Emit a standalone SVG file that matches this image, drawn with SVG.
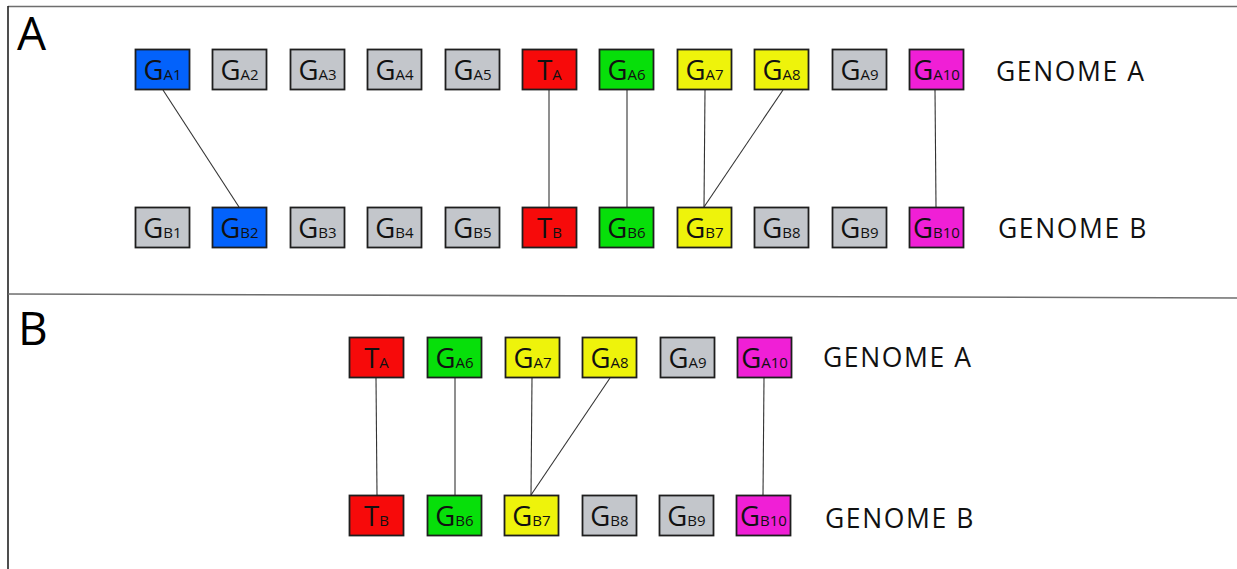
<svg xmlns="http://www.w3.org/2000/svg" width="1237" height="569" viewBox="0 0 1237 569">
<style>
.bx{stroke:#1e1e1e;stroke-width:1.8}
.gray{fill:#c3c6cb}.blue{fill:#0362fb}.red{fill:#f70a0a}.green{fill:#07df0a}.yellow{fill:#eef30b}.mag{fill:#f01fd6}
.t{font-family:"Open Sans","Noto Sans",sans-serif;fill:#111;text-anchor:middle}
.big{font-size:27.5px}.sub{font-size:15px}
.lbl{font-family:"Open Sans","Noto Sans",sans-serif;font-size:26.5px;letter-spacing:1.6px;fill:#111}
.sec{font-family:"Open Sans","Noto Sans",sans-serif;font-size:46px;fill:#000}
.ln{stroke:#333;stroke-width:1.1;fill:none}
.frame{stroke:#6e6e6e;stroke-width:1.6;fill:none}
</style>
<rect width="1237" height="569" fill="#fff"/>
<g id="frame">
<line class="frame" x1="8" y1="6.5" x2="1237" y2="6.5"/>
<line x1="8" y1="6" x2="8" y2="569" stroke="#222" stroke-width="1.6"/>
<line class="frame" x1="8" y1="294" x2="1237" y2="298"/>
<text class="sec" x="17" y="50">A</text>
<text class="sec" x="18" y="345">B</text>
</g>
<g id="connectors">
<line class="ln" x1="163" y1="90" x2="239" y2="207"/>
<line class="ln" x1="549" y1="90" x2="549" y2="207"/>
<line class="ln" x1="627" y1="90" x2="627" y2="207"/>
<line class="ln" x1="705" y1="90" x2="704" y2="207"/>
<line class="ln" x1="783" y1="90" x2="704" y2="207"/>
<line class="ln" x1="935" y1="90" x2="936" y2="207"/>
<line class="ln" x1="376" y1="378" x2="377" y2="495"/>
<line class="ln" x1="455" y1="378" x2="455" y2="495"/>
<line class="ln" x1="532" y1="378" x2="531" y2="495"/>
<line class="ln" x1="610" y1="378" x2="531" y2="495"/>
<line class="ln" x1="764" y1="378" x2="763" y2="495"/>
</g>
<!-- Section A, genome A -->
<g id="A_GA1"><rect class="bx blue" x="135.5" y="49.5" width="54" height="40"/><text class="t" x="162.5" y="80"><tspan class="big">G</tspan><tspan class="sub">A1</tspan></text></g>
<g id="A_GA2"><rect class="bx gray" x="212.5" y="49.5" width="54" height="40"/><text class="t" x="239.5" y="80"><tspan class="big">G</tspan><tspan class="sub">A2</tspan></text></g>
<g id="A_GA3"><rect class="bx gray" x="290.5" y="49.5" width="54" height="40"/><text class="t" x="317.5" y="80"><tspan class="big">G</tspan><tspan class="sub">A3</tspan></text></g>
<g id="A_GA4"><rect class="bx gray" x="367.5" y="49.5" width="54" height="40"/><text class="t" x="394.5" y="80"><tspan class="big">G</tspan><tspan class="sub">A4</tspan></text></g>
<g id="A_GA5"><rect class="bx gray" x="445.5" y="49.5" width="54" height="40"/><text class="t" x="472.5" y="80"><tspan class="big">G</tspan><tspan class="sub">A5</tspan></text></g>
<g id="A_TA"><rect class="bx red" x="522.5" y="49.5" width="54" height="40"/><text class="t" x="549.5" y="80"><tspan class="big">T</tspan><tspan class="sub">A</tspan></text></g>
<g id="A_GA6"><rect class="bx green" x="599.5" y="49.5" width="54" height="40"/><text class="t" x="626.5" y="80"><tspan class="big">G</tspan><tspan class="sub">A6</tspan></text></g>
<g id="A_GA7"><rect class="bx yellow" x="677.5" y="49.5" width="54" height="40"/><text class="t" x="704.5" y="80"><tspan class="big">G</tspan><tspan class="sub">A7</tspan></text></g>
<g id="A_GA8"><rect class="bx yellow" x="754.5" y="49.5" width="54" height="40"/><text class="t" x="781.5" y="80"><tspan class="big">G</tspan><tspan class="sub">A8</tspan></text></g>
<g id="A_GA9"><rect class="bx gray" x="832.5" y="49.5" width="54" height="40"/><text class="t" x="859.5" y="80"><tspan class="big">G</tspan><tspan class="sub">A9</tspan></text></g>
<g id="A_GA10"><rect class="bx mag" x="909.5" y="49.5" width="54" height="40"/><text class="t" x="936.5" y="80"><tspan class="big">G</tspan><tspan class="sub">A10</tspan></text></g>
<text id="A_labelA" class="lbl" x="996" y="81">GENOME A</text>
<!-- Section A, genome B -->
<g id="A_GB1"><rect class="bx gray" x="135.5" y="207.5" width="54" height="40"/><text class="t" x="162.5" y="238"><tspan class="big">G</tspan><tspan class="sub">B1</tspan></text></g>
<g id="A_GB2"><rect class="bx blue" x="212.5" y="207.5" width="54" height="40"/><text class="t" x="239.5" y="238"><tspan class="big">G</tspan><tspan class="sub">B2</tspan></text></g>
<g id="A_GB3"><rect class="bx gray" x="290.5" y="207.5" width="54" height="40"/><text class="t" x="317.5" y="238"><tspan class="big">G</tspan><tspan class="sub">B3</tspan></text></g>
<g id="A_GB4"><rect class="bx gray" x="367.5" y="207.5" width="54" height="40"/><text class="t" x="394.5" y="238"><tspan class="big">G</tspan><tspan class="sub">B4</tspan></text></g>
<g id="A_GB5"><rect class="bx gray" x="445.5" y="207.5" width="54" height="40"/><text class="t" x="472.5" y="238"><tspan class="big">G</tspan><tspan class="sub">B5</tspan></text></g>
<g id="A_TB"><rect class="bx red" x="522.5" y="207.5" width="54" height="40"/><text class="t" x="549.5" y="238"><tspan class="big">T</tspan><tspan class="sub">B</tspan></text></g>
<g id="A_GB6"><rect class="bx green" x="599.5" y="207.5" width="54" height="40"/><text class="t" x="626.5" y="238"><tspan class="big">G</tspan><tspan class="sub">B6</tspan></text></g>
<g id="A_GB7"><rect class="bx yellow" x="677.5" y="207.5" width="54" height="40"/><text class="t" x="704.5" y="238"><tspan class="big">G</tspan><tspan class="sub">B7</tspan></text></g>
<g id="A_GB8"><rect class="bx gray" x="754.5" y="207.5" width="54" height="40"/><text class="t" x="781.5" y="238"><tspan class="big">G</tspan><tspan class="sub">B8</tspan></text></g>
<g id="A_GB9"><rect class="bx gray" x="832.5" y="207.5" width="54" height="40"/><text class="t" x="859.5" y="238"><tspan class="big">G</tspan><tspan class="sub">B9</tspan></text></g>
<g id="A_GB10"><rect class="bx mag" x="909.5" y="207.5" width="54" height="40"/><text class="t" x="936.5" y="238"><tspan class="big">G</tspan><tspan class="sub">B10</tspan></text></g>
<text id="A_labelB" class="lbl" x="998" y="238">GENOME B</text>
<!-- Section B, genome A -->
<g id="B_TA"><rect class="bx red" x="349.5" y="337.5" width="54" height="40"/><text class="t" x="376.5" y="368"><tspan class="big">T</tspan><tspan class="sub">A</tspan></text></g>
<g id="B_GA6"><rect class="bx green" x="427.5" y="337.5" width="54" height="40"/><text class="t" x="454.5" y="368"><tspan class="big">G</tspan><tspan class="sub">A6</tspan></text></g>
<g id="B_GA7"><rect class="bx yellow" x="505.5" y="337.5" width="54" height="40"/><text class="t" x="532.5" y="368"><tspan class="big">G</tspan><tspan class="sub">A7</tspan></text></g>
<g id="B_GA8"><rect class="bx yellow" x="582.5" y="337.5" width="54" height="40"/><text class="t" x="609.5" y="368"><tspan class="big">G</tspan><tspan class="sub">A8</tspan></text></g>
<g id="B_GA9"><rect class="bx gray" x="660.5" y="337.5" width="54" height="40"/><text class="t" x="687.5" y="368"><tspan class="big">G</tspan><tspan class="sub">A9</tspan></text></g>
<g id="B_GA10"><rect class="bx mag" x="737.5" y="337.5" width="54" height="40"/><text class="t" x="764.5" y="368"><tspan class="big">G</tspan><tspan class="sub">A10</tspan></text></g>
<text id="B_labelA" class="lbl" x="823" y="367">GENOME A</text>
<!-- Section B, genome B -->
<g id="B_TB"><rect class="bx red" x="349.5" y="495.5" width="54" height="40"/><text class="t" x="376.5" y="526"><tspan class="big">T</tspan><tspan class="sub">B</tspan></text></g>
<g id="B_GB6"><rect class="bx green" x="427.5" y="495.5" width="54" height="40"/><text class="t" x="454.5" y="526"><tspan class="big">G</tspan><tspan class="sub">B6</tspan></text></g>
<g id="B_GB7"><rect class="bx yellow" x="504.5" y="495.5" width="54" height="40"/><text class="t" x="531.5" y="526"><tspan class="big">G</tspan><tspan class="sub">B7</tspan></text></g>
<g id="B_GB8"><rect class="bx gray" x="582.5" y="495.5" width="54" height="40"/><text class="t" x="609.5" y="526"><tspan class="big">G</tspan><tspan class="sub">B8</tspan></text></g>
<g id="B_GB9"><rect class="bx gray" x="659.5" y="495.5" width="54" height="40"/><text class="t" x="686.5" y="526"><tspan class="big">G</tspan><tspan class="sub">B9</tspan></text></g>
<g id="B_GB10"><rect class="bx mag" x="736.5" y="495.5" width="54" height="40"/><text class="t" x="763.5" y="526"><tspan class="big">G</tspan><tspan class="sub">B10</tspan></text></g>
<text id="B_labelB" class="lbl" x="825" y="528">GENOME B</text>
</svg>
